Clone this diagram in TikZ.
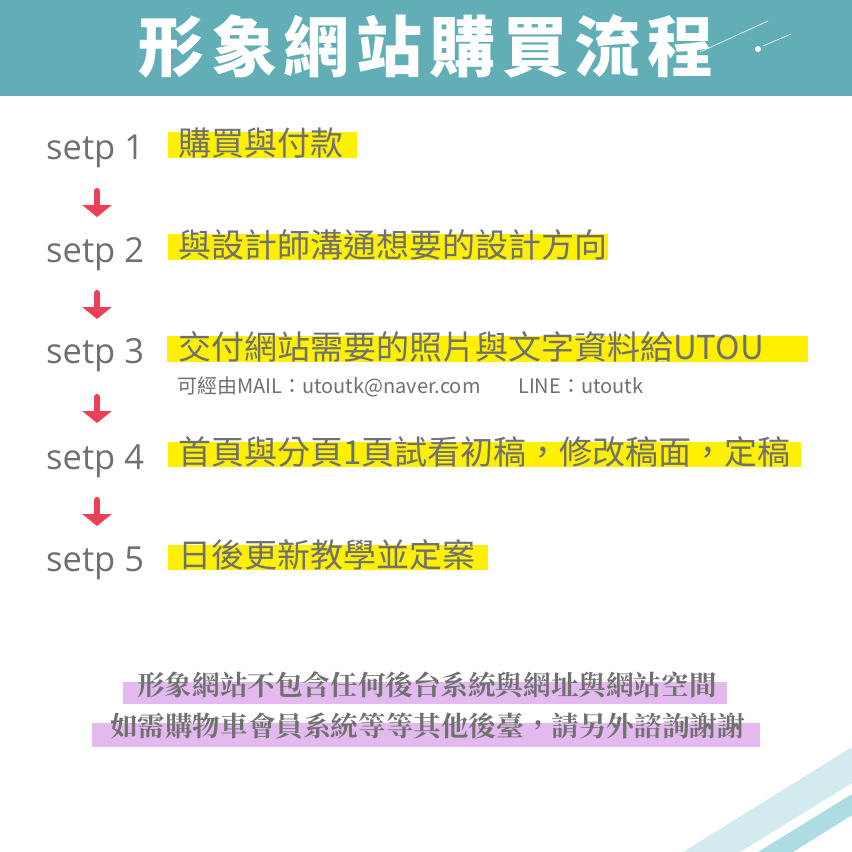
\documentclass[tikz,border=0pt]{standalone}
\usepackage{fontspec}
\setmainfont{Open Sans}
\newfontfamily\cjk{Noto Sans CJK TC}
\newfontfamily\cjkserif{Noto Serif CJK TC}
\usetikzlibrary{arrows.meta}
\definecolor{teal1}{HTML}{62AEB6}
\definecolor{txtgray}{HTML}{707070}
\definecolor{hly}{HTML}{FFF000}
\definecolor{hlp}{HTML}{E4B9EF}
\definecolor{arrred}{HTML}{EE3F57}
\definecolor{stripeA}{HTML}{D3EBEE}
\definecolor{stripeB}{HTML}{AEDCE3}
\definecolor{deco}{HTML}{E2F1F3}
\newcommand{\tc}[1]{\makebox[72.7pt]{#1}}
\begin{document}
\begin{tikzpicture}[x=1pt,y=-1pt,
  stepl/.style={anchor=base west, text=txtgray, font=\fontsize{34.5}{34.5}\selectfont, inner sep=0},
  task/.style={anchor=base west, text=txtgray, font=\cjk\fontsize{33}{33}\selectfont, inner sep=0},
  hlbox/.style={fill=hly},
  note/.style={anchor=base, text=txtgray, font=\cjkserif\bfseries\fontsize{27.6}{27.6}\selectfont, inner sep=0},
  arr/.style={draw=arrred, line width=6pt, line cap=round, -{Triangle[width=29pt,length=12pt]}}]
\useasboundingbox (0,0) rectangle (852,852);
\fill[white] (0,0) rectangle (852,852);
% header
\fill[teal1] (0,0) rectangle (852,96);
\node[anchor=base, text=white, font=\cjk\bfseries\fontsize{66}{66}\selectfont, inner sep=0] (title) at (426,71)
  {\tc{形}\tc{象}\tc{網}\tc{站}\tc{購}\tc{買}\tc{流}\tc{程}};
\draw[deco, line width=0.8pt] (700,52) -- (768,21);
\draw[deco, line width=0.8pt] (763,46) -- (791,34);
\fill[white] (758,49) circle (3);
% highlights
\fill[hlbox] (168,132) rectangle (357,158);
\fill[hlbox] (168,234) rectangle (608,260);
\fill[hlbox] (167,336) rectangle (808,362);
\fill[hlbox] (168,442) rectangle (801,467);
\fill[hlbox] (168,545) rectangle (488,570);
% steps
\node[stepl] (s1) at (46,159) {setp 1};
\node[stepl] (s2) at (46,262) {setp 2};
\node[stepl] (s3) at (46,363) {setp 3};
\node[stepl] (s4) at (46,469) {setp 4};
\node[stepl] (s5) at (46,571) {setp 5};
\node[task] (t1) at (178,155) {購買與付款};
\node[task] (t2) at (178,257) {與設計師溝通想要的設計方向};
\node[task] (t3) at (178,359) {交付網站需要的照片與文字資料給UTOU};
\node[task] (t4) at (178,464) {首頁與分頁1頁試看初稿，修改稿面，定稿};
\node[task] (t5) at (178,567) {日後更新教學並定案};
\node[anchor=base west, text=txtgray, font=\cjk\fontsize{20}{20}\selectfont, inner sep=0] (mail) at (177,393) {可經由MAIL：utoutk@naver.com};
\node[anchor=base west, text=txtgray, font=\cjk\fontsize{20}{20}\selectfont, inner sep=0] (line) at (518,393) {LINE：utoutk};
% arrows
\coordinate (a1s) at (97,191); \coordinate (a1e) at (97,217);
\coordinate (a2s) at (97,293); \coordinate (a2e) at (97,319);
\coordinate (a3s) at (97,397); \coordinate (a3e) at (97,423);
\coordinate (a4s) at (97,500); \coordinate (a4e) at (97,526);
\draw[arr] (a1s) -- (a1e);
\draw[arr] (a2s) -- (a2e);
\draw[arr] (a3s) -- (a3e);
\draw[arr] (a4s) -- (a4e);
% bottom note
\fill[hlp] (123,682) rectangle (727,704);
\fill[hlp] (92,723) rectangle (760,747);
\node[note] (n1) at (427,695) {形象網站不包含任何後台系統與網址與網站空間};
\node[note] (n2) at (427.5,736) {如需購物車會員系統等等其他後臺，請另外諮詢謝謝};
% stripes
\fill[stripeA] (683,852) -- (852,747) -- (852,783) -- (740,852) -- cycle;
\fill[stripeB] (758,852) -- (852,794) -- (852,815) -- (793,852) -- cycle;
\end{tikzpicture}
\end{document}
